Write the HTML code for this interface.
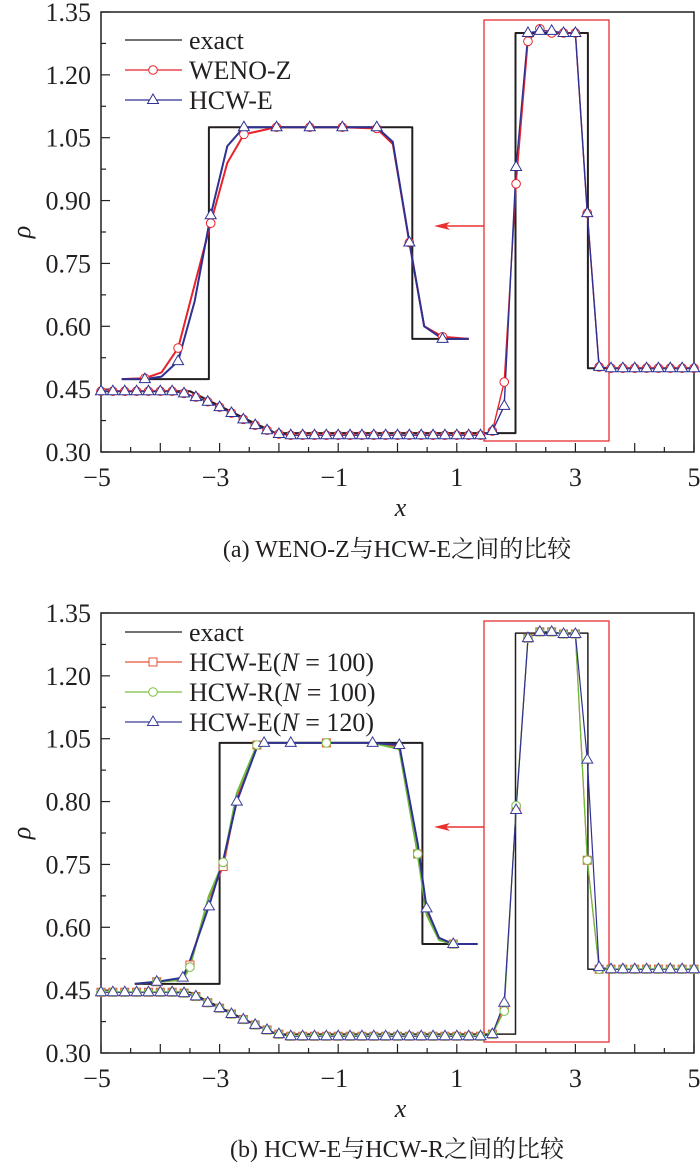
<!DOCTYPE html>
<html><head><meta charset="utf-8">
<style>
html,body{margin:0;padding:0;background:#fff;}
svg text{font-family:"Liberation Serif","Noto Serif CJK SC","Noto Sans CJK SC",serif;fill:#231f20;}
</style></head>
<body>
<svg id="chart" width="700" height="1170" viewBox="0 0 700 1170" xmlns="http://www.w3.org/2000/svg" font-family="'Liberation Serif', 'Noto Serif CJK SC', serif"></svg>
<script>
// ---------- Panel (a) data ----------
const xGrid = [-5,-4.8,-4.6,-4.4,-4.2,-4.0,-3.8,-3.6,-3.4,-3.2,-3.0,-2.8,-2.6,-2.4,-2.2,-2.0,-1.8,-1.6,-1.4,-1.2,-1.0,-0.8,-0.6,-0.4,-0.2,0,0.2,0.4,0.6,0.8,1.0,1.2,1.4,1.6,1.8,2.0,2.2,2.4,2.6,2.8,3.0,3.2,3.4,3.6,3.8,4.0,4.2,4.4,4.6,4.8,5.0];
const aWenoZ = [.445,.445,.445,.445,.445,.445,.445,.44,.431,.42,.407,.393,.378,.364,.352,.343,.34,.34,.34,.34,.34,.34,.34,.34,.34,.34,.34,.34,.34,.34,.34,.34,.34,.35,.467,.94,1.28,1.31,1.30,1.30,1.30,.87,.503,.50,.50,.50,.50,.50,.50,.50,.50];
const aHcwE = [.445,.445,.445,.445,.445,.445,.445,.44,.431,.42,.407,.393,.378,.364,.352,.343,.34,.34,.34,.34,.34,.34,.34,.34,.34,.34,.34,.34,.34,.34,.34,.34,.34,.35,.41,.98,1.30,1.305,1.305,1.30,1.30,.87,.503,.50,.50,.50,.50,.50,.50,.50,.50];
const aExactX = [-5,-3.5,-3.0,-2.5,-2.05,1.99,1.99,3.21,3.21,5];
const aExactY = [.445,.445,.41,.375,.345,.345,1.30,1.30,.50,.50];
const aInsetX = [-4.65,-4.26,-3.98,-3.70,-3.42,-3.15,-2.87,-2.59,-2.04,-1.48,-0.93,-0.35,-0.08,0.2,0.45,0.76,1.2];
const aInsetHcwE = [.474,.474,.48,.517,.66,.865,1.03,1.075,1.075,1.075,1.075,1.075,1.04,.80,.60,.57,.57];
const aInsetWenoZ = [.474,.476,.49,.548,.70,.846,.99,1.058,1.075,1.075,1.075,1.072,1.035,.80,.60,.575,.57];
const aInsetMarkers = [1,3,5,7,8,9,10,11,13,15];
const aInsetExactX = [-4.65,-3.18,-3.18,0.25,0.25,1.2];
const aInsetExactY = [.474,.474,1.075,1.075,.57,.57];

// ---------- Panel (b) data ----------
const bHcwE100 = [.445,.445,.445,.445,.445,.445,.445,.443,.435,.42,.407,.393,.38,.367,.355,.345,.34,.34,.34,.34,.34,.34,.34,.34,.34,.34,.34,.34,.34,.34,.34,.34,.34,.345,.41,.885,1.29,1.305,1.305,1.30,1.30,.76,.50,.50,.50,.50,.50,.50,.50,.50,.50];
const bHcwR100 = [.445,.445,.445,.445,.445,.445,.445,.443,.435,.42,.407,.393,.38,.367,.355,.345,.34,.34,.34,.34,.34,.34,.34,.34,.34,.34,.34,.34,.34,.34,.34,.34,.34,.345,.40,.89,1.29,1.305,1.305,1.30,1.30,.76,.50,.50,.50,.50,.50,.50,.50,.50,.50];
const bHcwE120 = [.445,.445,.445,.445,.445,.445,.445,.443,.435,.42,.407,.393,.38,.367,.355,.345,.34,.34,.34,.34,.34,.34,.34,.34,.34,.34,.34,.34,.34,.34,.34,.34,.34,.345,.42,.88,1.29,1.305,1.305,1.30,1.30,1.0,.505,.50,.50,.50,.50,.50,.50,.50,.50];
const bExactX = [-5,-3.5,-3.0,-2.5,-2.05,1.99,1.99,3.21,3.21,5];
const bExactY = [.445,.445,.41,.375,.345,.345,1.302,1.302,.50,.50];
const bInsetX = [-4.43,-4.06,-3.62,-3.5,-3.18,-2.94,-2.71,-2.37,-2.25,-1.8,-1.2,-0.42,0.03,0.34,0.49,0.7,0.94,1.35];
const bInsetE120 = [.465,.47,.48,.52,.65,.76,.90,1.03,1.04,1.04,1.04,1.04,1.035,.80,.645,.575,.56,.56];
const bInsetE100 = [.465,.47,.475,.51,.67,.745,.91,1.035,1.04,1.04,1.04,1.04,1.03,.775,.64,.57,.56,.56];
const bInsetR100 = [.465,.47,.475,.505,.675,.755,.92,1.035,1.04,1.04,1.04,1.04,1.025,.775,.63,.57,.56,.56];
const bInsetMarkersBlue = [1,2,4,6,8,9,11,12,14,16];
const bInsetMarkersRG = [1,3,5,7,10,13,16];
const bInsetExactX = [-4.43,-3.0,-3.0,0.42,0.42,1.35];
const bInsetExactY = [.465,.465,1.04,1.04,.56,.56];

// ---------- ticks ----------
const xTickLabels = [-5,-3,-1,1,3,5];
const yTickVals = [0.30,0.45,0.60,0.75,0.90,1.05,1.20,1.35];
const yTickLabelsA = ["0.30","0.45","0.60","0.75","0.90","1.05","1.20","1.35"];
const yTickLabelsB = ["0.30","0.45","0.60","0.75","0.80","1.05","1.20","1.35"];

const NS = "http://www.w3.org/2000/svg";
const FONT = "'Liberation Serif', 'Noto Serif CJK SC', 'Noto Sans CJK SC', serif";
const svg = document.getElementById('chart');
function mk(tag, attrs, parent){
  const e = document.createElementNS(NS, tag);
  for (const k in attrs) e.setAttribute(k, attrs[k]);
  if (tag === 'text') e.setAttribute('font-family', FONT);
  (parent||svg).appendChild(e);
  return e;
}
const L = 101, R = 694;
function sx(x){ return L + (x + 5) / 10 * (R - L); }
function makeSy(top, bottom){ return v => bottom - (v - 0.30) / 1.05 * (bottom - top); }

function line(xs, ys, sy, color, w, name, g){
  const p = mk('polyline', {points: xs.map((x,i)=>sx(x).toFixed(1)+','+sy(ys[i]).toFixed(1)).join(' '), fill:'none', stroke:color, 'stroke-width':w, 'stroke-linejoin':'round'}, g);
  
  
}
function marker(type, cx, cy, color, g){
  let e;
  if (type==='circle') e = mk('circle', {cx, cy, r:4.3, fill:'#fff', stroke:color, 'stroke-width':1}, g);
  else if (type==='square') e = mk('rect', {x:cx-4, y:cy-4, width:8, height:8, fill:'#fff', stroke:color, 'stroke-width':1}, g);
  else e = mk('polygon', {points:`${cx},${cy-6} ${cx-5.5},${cy+3.5} ${cx+5.5},${cy+3.5}`, fill:'#fff', stroke:color, 'stroke-width':1}, g);
  
  
}
function markersAll(xs, ys, sy, type, color, g, idx){
  const list = idx || xs.map((_,i)=>i);
  list.forEach(i => marker(type, sx(xs[i]), sy(ys[i]), color, g));
}

function axes(top, bottom, labels, panel){
  const sy = makeSy(top, bottom);
  const g = mk('g', {});
  
  
  mk('rect', {x:L, y:top, width:R-L, height:bottom-top, fill:'none', stroke:'#231f20', 'stroke-width':1.5}, g);
  yTickVals.forEach((v,i)=>{
    const y = sy(v);
    mk('line', {x1:L, y1:y, x2:L+9, y2:y, stroke:'#231f20', 'stroke-width':1.2}, g);
    if (i < yTickVals.length-1){
      const ym = sy(v+0.075);
      mk('line', {x1:L, y1:ym, x2:L+5, y2:ym, stroke:'#231f20', 'stroke-width':1.2}, g);
    }
    const t = mk('text', {x:L-10, y:y+9, 'font-size':26, 'text-anchor':'end'}, g);
    t.textContent = labels[i];
    
    
  });
  for (let k=-5; k<=5; k+=0.5){
    const x = sx(k);
    const len = Number.isInteger(k) ? 9 : 5;
    mk('line', {x1:x, y1:bottom, x2:x, y2:bottom-len, stroke:'#231f20', 'stroke-width':1.2}, g);
  }
  xTickLabels.forEach(v=>{
    const t = mk('text', {x:sx(v)+(v<0?-4:0), y:bottom+34, 'font-size':26, 'text-anchor':'middle'}, g);
    t.textContent = v<0 ? '\u2212'+(-v) : String(v);
    
    
  });
  const xl = mk('text', {x:sx(0)+3, y:bottom+64, 'font-size':26, 'font-style':'italic', 'text-anchor':'middle'}, g);
  xl.textContent = 'x';
  
  
  const yc = (top+bottom)/2;
  const yl = mk('text', {x:0, y:0, 'font-size':26, 'font-style':'italic', 'text-anchor':'middle', transform:`translate(30,${yc}) rotate(-90)`}, g);
  yl.textContent = 'ρ';
  
  
  return sy;
}
function zoomBox(top, bottom, arrowY, panel){
  const r = mk('rect', {x:484, y:top, width:125, height:bottom-top, fill:'none', stroke:'#e8302f', 'stroke-width':1.3});
  
  
  const a = mk('line', {x1:484, y1:arrowY, x2:446, y2:arrowY, stroke:'#e8302f', 'stroke-width':1.5});
  
  
  const h = mk('polygon', {points:`434,${arrowY} 450,${arrowY-4} 446,${arrowY} 450,${arrowY+4}`, fill:'#e8302f'});
  
  
}
function legendEntry(y, color, type, label, ital, g){
  const lg = mk('g', {}, g);
  
  
  mk('line', {x1:125, y1:y, x2:182, y2:y, stroke:color, 'stroke-width':1.3}, lg);
  if (type) marker(type, 153, y, color, lg);
  const t = mk('text', {x:189, y:y+9, 'font-size':26}, lg);
  if (ital){
    t.appendChild(document.createTextNode(label[0]));
    const ts = mk('tspan', {'font-style':'italic'}, t); ts.textContent = 'N';
    t.appendChild(document.createTextNode(label[1]));
  } else t.textContent = label;
}
function caption(y, text, name){
  const t = mk('text', {x:397, y:y, 'font-size':24, 'text-anchor':'middle'});
  t.textContent = text;
  
  
}

// ----- Panel a -----
const syA = axes(12, 452, yTickLabelsA, 'a');
zoomBox(20, 441, 226, 'a');
const gA = mk('g', {});


line(aExactX, aExactY, syA, '#231f20', 2, 'exact-line-a', gA);
line(aInsetExactX, aInsetExactY, syA, '#231f20', 2, 'exact-inset-line-a', gA);
line(xGrid, aWenoZ, syA, '#e8222a', 1.4, 'weno-z-line', gA);
line(aInsetX, aInsetWenoZ, syA, '#e8222a', 2, 'weno-z-inset-line', gA);
line(xGrid, aHcwE, syA, '#2e3192', 1.4, 'hcw-e-line', gA);
line(aInsetX, aInsetHcwE, syA, '#2e3192', 2, 'hcw-e-inset-line', gA);
markersAll(xGrid, aWenoZ, syA, 'circle', '#e8222a', gA);
markersAll(aInsetX, aInsetWenoZ, syA, 'circle', '#e8222a', gA, aInsetMarkers);
markersAll(xGrid, aHcwE, syA, 'triangle', '#2e3192', gA);
markersAll(aInsetX, aInsetHcwE, syA, 'triangle', '#2e3192', gA, aInsetMarkers);
const legA = mk('g', {});


legendEntry(40, '#231f20', null, 'exact', false, legA);
legendEntry(70, '#e8222a', 'circle', 'WENO-Z', false, legA);
legendEntry(100, '#2e3192', 'triangle', 'HCW-E', false, legA);
caption(557, '(a) WENO-Z与HCW-E之间的比较', 'caption-a');

// ----- Panel b -----
const syB = axes(613, 1053, yTickLabelsB, 'b');
zoomBox(621, 1042, 827, 'b');
const gB = mk('g', {});


line(bExactX, bExactY, syB, '#231f20', 1.5, 'exact-line-b', gB);
line(bInsetExactX, bInsetExactY, syB, '#231f20', 2, 'exact-inset-line-b', gB);
line(xGrid, bHcwE100, syB, '#e8503a', 1.2, 'hcw-e-100-line', gB);
line(xGrid, bHcwR100, syB, '#6dbd3c', 1.2, 'hcw-r-100-line', gB);
line(xGrid, bHcwE120, syB, '#2e3192', 1.2, 'hcw-e-120-line', gB);
line(bInsetX, bInsetE100, syB, '#e8503a', 2, 'hcw-e-100-inset-line', gB);
line(bInsetX, bInsetR100, syB, '#6dbd3c', 2, 'hcw-r-100-inset-line', gB);
line(bInsetX, bInsetE120, syB, '#2e3192', 2, 'hcw-e-120-inset-line', gB);
markersAll(xGrid, bHcwE100, syB, 'square', '#e8503a', gB);
markersAll(xGrid, bHcwR100, syB, 'circle', '#7ac142', gB);
markersAll(xGrid, bHcwE120, syB, 'triangle', '#3b3f99', gB);
markersAll(bInsetX, bInsetE100, syB, 'square', '#e8503a', gB, bInsetMarkersRG);
markersAll(bInsetX, bInsetR100, syB, 'circle', '#7ac142', gB, bInsetMarkersRG);
markersAll(bInsetX, bInsetE120, syB, 'triangle', '#3b3f99', gB, bInsetMarkersBlue);
const legB = mk('g', {});


legendEntry(632, '#231f20', null, 'exact', false, legB);
legendEntry(662, '#e8503a', 'square', ['HCW-E(', ' = 100)'], true, legB);
legendEntry(692, '#7ac142', 'circle', ['HCW-R(', ' = 100)'], true, legB);
legendEntry(722, '#3b3f99', 'triangle', ['HCW-E(', ' = 120)'], true, legB);
caption(1157, '(b) HCW-E与HCW-R之间的比较', 'caption-b');
</script>
</body></html>
